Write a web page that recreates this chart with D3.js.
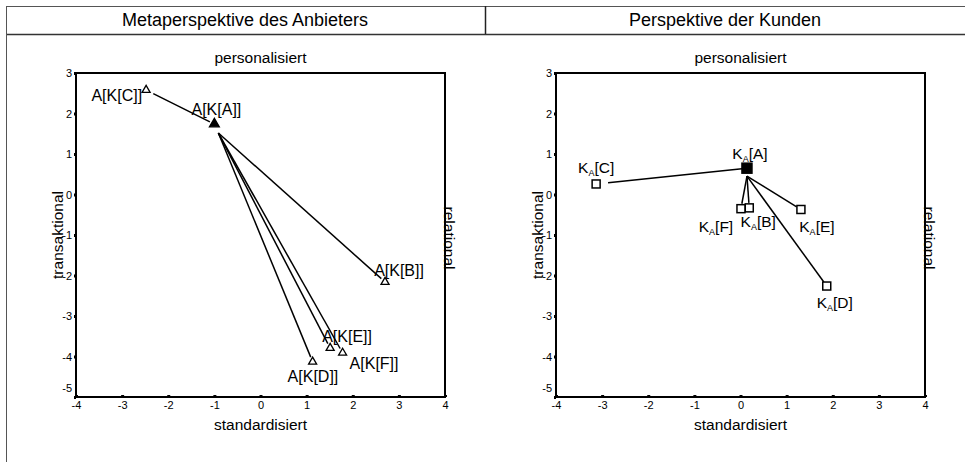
<!DOCTYPE html>
<html><head><meta charset="utf-8">
<script src="https://cdn.jsdelivr.net/npm/d3@7"></script>
<style>
body{margin:0;background:#fff;}
text{font-family:"Liberation Sans",Arial,sans-serif;fill:#000;}
</style></head>
<body><svg id="c" width="965" height="462"></svg>
<script>
// ---- data ----
const panelTitles = ["Metaperspektive des Anbieters", "Perspektive der Kunden"];
const xTicks = [-4, -3, -2, -1, 0, 1, 2, 3, 4];
const yTicks = [-5, -4, -3, -2, -1, 0, 1, 2, 3];
const axisTop = "personalisiert", axisBottom = "standardisiert", axisLeft = "transaktional", axisRight = "relational";

// Left panel: Anbieter meta-perspective (triangles)
const leftNames  = ["A", "B", "C", "D", "E", "F"];
const leftX      = [-1.0, 2.70, -2.48, 1.13, 1.51, 1.78];
const leftY      = [1.74, -2.16, 2.58, -4.13, -3.79, -3.91];
// Right panel: customer perspective (squares)
const rightNames = ["A", "B", "C", "D", "E", "F"];
const rightX     = [0.14, 0.19, -3.13, 1.87, 1.31, 0.01];
const rightY     = [0.65, -0.33, 0.26, -2.26, -0.37, -0.35];

const svg = d3.select("#c");

// frame / header
svg.append("line").attr("x1",6).attr("x2",965).attr("y1",6.5).attr("y2",6.5).attr("stroke","#555").attr("stroke-width",1);
svg.append("line").attr("x1",6).attr("x2",965).attr("y1",34.5).attr("y2",34.5).attr("stroke","#333").attr("stroke-width",1.5);
svg.append("line").attr("x1",6.5).attr("x2",6.5).attr("y1",6).attr("y2",462).attr("stroke","#555").attr("stroke-width",1);
svg.append("line").attr("x1",485.5).attr("x2",485.5).attr("y1",6).attr("y2",34).attr("stroke","#222").attr("stroke-width",1.5);
svg.append("text").attr("x",245).attr("y",26).attr("text-anchor","middle").attr("font-size",18).text(panelTitles[0]);
svg.append("text").attr("x",725).attr("y",26).attr("text-anchor","middle").attr("font-size",18).text(panelTitles[1]);

function panel(x0, names, xs, ys, kind) {
  const x = d3.scaleLinear().domain([-4,4]).range([x0, x0+369]);
  const y = d3.scaleLinear().domain([-5,3]).range([397, 73]);
  const g = svg.append("g");
  // axes
  const ax = g.append("g").attr("transform","translate(0,397)")
    .call(d3.axisBottom(x).tickValues(xTicks).tickSize(-2).tickPadding(5).tickFormat(d => String(d)));
  ax.select(".domain").remove();
  ax.selectAll(".tick line").attr("stroke-width",3);
  ax.selectAll(".tick text").attr("font-size",11).attr("dy","0.6em");
  const ay = g.append("g").attr("transform",`translate(${x0},0)`)
    .call(d3.axisLeft(y).tickValues(yTicks).tickSize(2).tickPadding(2).tickFormat(d => String(d)));
  ay.select(".domain").remove();
  ay.selectAll(".tick line").attr("stroke-width",3);
  ay.selectAll(".tick text").attr("font-size",11)
    .attr("dy", d => d === -5 ? "-0.5em" : "0.32em");
  // box
  g.append("rect").attr("x",x(-4)).attr("y",y(3)).attr("width",x(4)-x(-4)).attr("height",y(-5)-y(3))
    .attr("fill","none").attr("stroke","#000").attr("stroke-width",2);
  // axis names
  const cx = (x(-4)+x(4))/2, cy = (y(3)+y(-5))/2;
  g.append("text").attr("x",cx).attr("y",63).attr("text-anchor","middle").attr("font-size",15.5).text(axisTop);
  g.append("text").attr("x",cx).attr("y",430).attr("text-anchor","middle").attr("font-size",15.5).text(axisBottom);
  g.append("text").attr("transform",`translate(${x0-13},${cy}) rotate(-90)`).attr("text-anchor","middle").attr("font-size",15.5).text(axisLeft);
  g.append("text").attr("transform",`translate(${x(4)-1},${cy+3}) rotate(90)`).attr("text-anchor","middle").attr("font-size",15.5).text(axisRight);

  const pts = names.map((n,i)=>({n, px:x(xs[i]), py:y(ys[i])}));
  const A = pts[0];
  const seg = (p, q, g0, g1) => {
    const dx=q.px-p.px, dy=q.py-p.py, L=Math.hypot(dx,dy);
    return [p.px+dx/L*g0, p.py+dy/L*g0, q.px-dx/L*g1, q.py-dy/L*g1];
  };
  pts.slice(1).forEach(p => {
    let s;
    if (p.n==="C") {
      s = seg(p, A, kind==="tri"?8:12, 5);
    } else {
      const o = kind==="tri" ? {px:A.px+4, py:A.py+9} : {px:A.px, py:A.py+8};
      s = seg(o, p, 0, 5);
    }
    g.append("line").attr("x1",s[0]).attr("y1",s[1]).attr("x2",s[2]).attr("y2",s[3])
      .attr("stroke","#000").attr("stroke-width",1.5);
  });
  // markers
  pts.forEach((p,i) => {
    if (kind==="tri") {
      const filled = i===0;
      g.append("path").attr("d", d3.symbol(d3.symbolTriangle, filled?42:28)())
        .attr("transform",`translate(${p.px},${p.py})`)
        .attr("fill", filled?"#000":"#fff").attr("stroke","#000").attr("stroke-width",1.3);
    } else {
      const filled = i===0, s = filled?10:8;
      g.append("rect").attr("x",p.px-s/2).attr("y",p.py-s/2).attr("width",s).attr("height",s)
        .attr("fill", filled?"#000":"#fff").attr("stroke","#000").attr("stroke-width",1.5);
    }
  });
  return {x,y,g,pts};
}

const L = panel(76, leftNames, leftX, leftY, "tri");
const R = panel(556, rightNames, rightX, rightY, "sq");

const leftLab = {A:[2,-9,"middle"], B:[14,-6,"middle"], C:[-4,11,"end"], D:[-25,20,"start"], E:[-8,-6,"start"], F:[7,16,"start"]};
L.pts.forEach(p => {
  const o = leftLab[p.n];
  L.g.append("text").attr("x",p.px+o[0]).attr("y",p.py+o[1]).attr("text-anchor",o[2]).attr("font-size",16)
    .text(`A[K[${p.n}]]`);
});
const rightLab = {A:[3,-9,"middle"], B:[9,19,"middle"], C:[0,-11,"middle"], D:[8,22,"middle"], E:[16,23,"middle"], F:[-25,23,"middle"]};
R.pts.forEach(p => {
  const o = rightLab[p.n];
  const t = R.g.append("text").attr("x",p.px+o[0]).attr("y",p.py+o[1]).attr("text-anchor",o[2]).attr("font-size",15.5);
  t.append("tspan").text("K");
  t.append("tspan").attr("font-size",9).attr("dy",3).text("A");
  t.append("tspan").attr("dy",-3).text(`[${p.n}]`);
});
</script></body></html>
